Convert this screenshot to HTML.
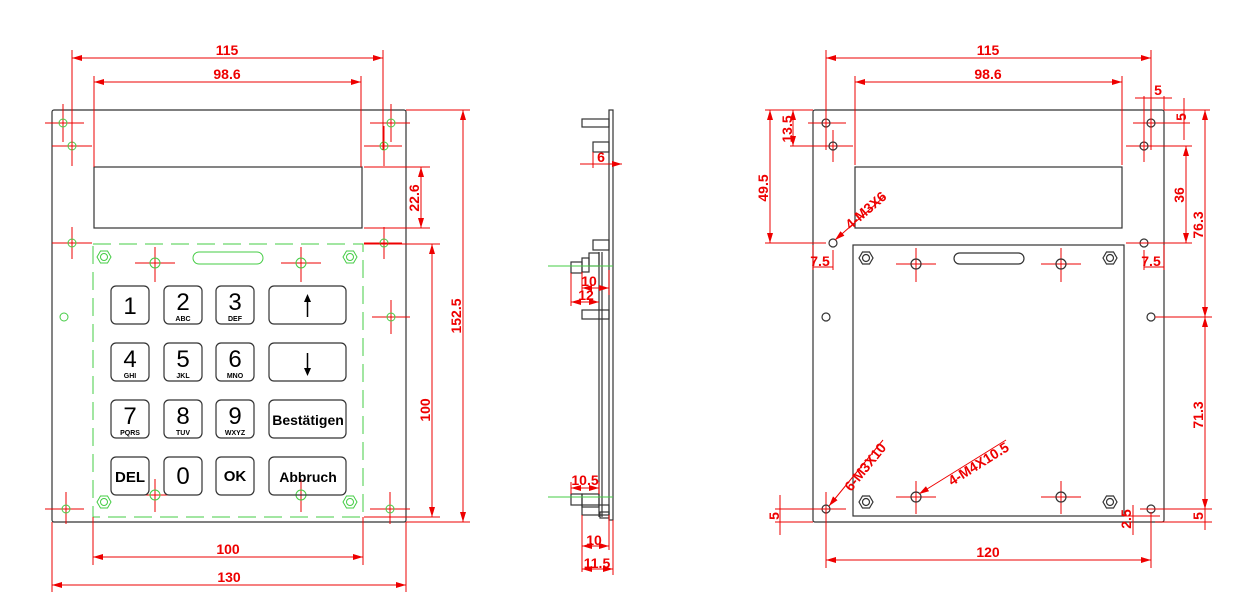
<!DOCTYPE html>
<html><head><meta charset="utf-8"><style>
html,body{margin:0;padding:0;background:#fff;}
svg{display:block;}
text{font-family:"Liberation Sans",sans-serif;font-weight:bold;}
.r{stroke:#e00;stroke-width:1;fill:none}
.rt{fill:#e00;font-size:14px}
.k{stroke:#333;stroke-width:1.2;fill:none}
.g{stroke:#4c4;stroke-width:1;fill:none}
.kt{fill:#000;font-weight:normal}
.kb{fill:#000;font-weight:bold}
</style></head><body>
<svg width="1242" height="611" viewBox="0 0 1242 611" xmlns="http://www.w3.org/2000/svg">
<defs>
<marker id="a" viewBox="0 0 10 6" refX="10" refY="3" markerWidth="10" markerHeight="6" orient="auto-start-reverse"><path d="M0,0L10,3L0,6z" fill="#e00"/></marker>
</defs>

<!-- ============ LEFT VIEW ============ -->
<rect class="k" x="52" y="110" width="354" height="412" rx="2"/>
<rect class="k" x="94" y="167" width="268" height="61"/>
<rect class="g" x="93" y="244" width="270" height="273" stroke-dasharray="18,8"/>
<rect class="g" x="193" y="252" width="70" height="12" rx="6"/>
<g class="g">
<polygon points="97,257 100.5,251 107.5,251 111,257 107.5,263 100.5,263"/><circle cx="104" cy="257" r="3.5"/>
<polygon points="343,257 346.5,251 353.5,251 357,257 353.5,263 346.5,263"/><circle cx="350" cy="257" r="3.5"/>
<polygon points="97,502 100.5,496 107.5,496 111,502 107.5,508 100.5,508"/><circle cx="104" cy="502" r="3.5"/>
<polygon points="343,502 346.5,496 353.5,496 357,502 353.5,508 346.5,508"/><circle cx="350" cy="502" r="3.5"/>
</g>
<g class="r">
<path d="M45,123H84M63,104V142 M52,146H92M72,126V166 M370,123H410M391,104V142 M364,146H402M384,126V166 M52,243H92M72,227V259 M364,243H402M384,227V259 M135,263H175M155,247V282 M281,263H321M301,247V282 M135,495H175M155,479V512 M281,495H321M301,479V512 M45,509H84M66,492V524 M370,509H410M390,492V524 M372,317H410M391,300V334"/>
</g>
<g class="g">
<circle cx="63" cy="123" r="4"/><circle cx="72" cy="146" r="4"/><circle cx="391" cy="123" r="4"/><circle cx="384" cy="146" r="4"/>
<circle cx="72" cy="243" r="4"/><circle cx="384" cy="243" r="4"/><circle cx="155" cy="263" r="5"/><circle cx="301" cy="263" r="5"/>
<circle cx="155" cy="495" r="5"/><circle cx="301" cy="495" r="5"/><circle cx="66" cy="509" r="4"/><circle cx="390" cy="509" r="4"/>
<circle cx="64" cy="317" r="4"/><circle cx="391" cy="317" r="4"/>
</g>
<g class="k">
<rect x="111" y="286" width="38" height="38" rx="5"/><rect x="164" y="286" width="38" height="38" rx="5"/><rect x="216" y="286" width="38" height="38" rx="5"/><rect x="269" y="286" width="77" height="38" rx="5"/>
<rect x="111" y="343" width="38" height="38" rx="5"/><rect x="164" y="343" width="38" height="38" rx="5"/><rect x="216" y="343" width="38" height="38" rx="5"/><rect x="269" y="343" width="77" height="38" rx="5"/>
<rect x="111" y="400" width="38" height="38" rx="5"/><rect x="164" y="400" width="38" height="38" rx="5"/><rect x="216" y="400" width="38" height="38" rx="5"/><rect x="269" y="400" width="77" height="38" rx="5"/>
<rect x="111" y="457" width="38" height="38" rx="5"/><rect x="164" y="457" width="38" height="38" rx="5"/><rect x="216" y="457" width="38" height="38" rx="5"/><rect x="269" y="457" width="77" height="38" rx="5"/>
</g>
<g text-anchor="middle" font-size="24">
<text x="130" y="314" class="kt">1</text>
<text x="183" y="310" class="kt">2</text><text x="183" y="321" font-size="7" class="kb">ABC</text>
<text x="235" y="310" class="kt">3</text><text x="235" y="321" font-size="7" class="kb">DEF</text>
<text x="130" y="367" class="kt">4</text><text x="130" y="378" font-size="7" class="kb">GHI</text>
<text x="183" y="367" class="kt">5</text><text x="183" y="378" font-size="7" class="kb">JKL</text>
<text x="235" y="367" class="kt">6</text><text x="235" y="378" font-size="7" class="kb">MNO</text>
<text x="130" y="424" class="kt">7</text><text x="130" y="435" font-size="7" class="kb">PQRS</text>
<text x="183" y="424" class="kt">8</text><text x="183" y="435" font-size="7" class="kb">TUV</text>
<text x="235" y="424" class="kt">9</text><text x="235" y="435" font-size="7" class="kb">WXYZ</text>
<text x="183" y="484" class="kt">0</text>
<text x="130" y="482" font-size="15" class="kb">DEL</text>
<text x="235" y="481" font-size="15" class="kb">OK</text>
<text x="308" y="425" font-size="14" class="kb">Bestätigen</text>
<text x="308" y="482" font-size="14" class="kb">Abbruch</text>
</g>
<path d="M307.5,296V317 M307.5,353V374" stroke="#000" stroke-width="1.5"/>
<path d="M304,302L307.5,294L311,302z M304,368L307.5,376L311,368z" fill="#000"/>
<g class="r">
<path d="M72,50V150 M383,50V150 M94,76V167 M361,76V167"/>
<path d="M72,58H383" marker-start="url(#a)" marker-end="url(#a)"/>
<path d="M94,82H361" marker-start="url(#a)" marker-end="url(#a)"/>
<path d="M364,167H430 M364,228H430 M406,110H470 M364,244H440 M364,517H440 M406,522H470"/>
<path d="M421,167V228" marker-start="url(#a)" marker-end="url(#a)"/>
<path d="M463,110V522" marker-start="url(#a)" marker-end="url(#a)"/>
<path d="M432,244V517" marker-start="url(#a)" marker-end="url(#a)"/>
<path d="M93,517V565 M363,517V565 M52,522V592 M406,522V592"/>
<path d="M93,557H363" marker-start="url(#a)" marker-end="url(#a)"/>
<path d="M52,585H406" marker-start="url(#a)" marker-end="url(#a)"/>
</g>
<g class="rt" text-anchor="middle">
<text x="227" y="55">115</text><text x="227" y="79">98.6</text>
<text x="228" y="554">100</text><text x="229" y="582">130</text>
<text transform="translate(419,198) rotate(-90)">22.6</text>
<text transform="translate(461,316) rotate(-90)">152.5</text>
<text transform="translate(430,410) rotate(-90)">100</text>
</g>

<!-- ============ SIDE VIEW ============ -->
<g class="k">
<rect x="609" y="110" width="4" height="410"/>
<path d="M599,252V517 M602,252V517"/>
<rect x="582" y="119" width="27" height="8"/>
<rect x="593" y="142" width="16" height="10"/>
<rect x="593" y="240" width="16" height="10"/>
<rect x="582" y="310" width="27" height="9"/>
<rect x="589" y="253" width="10" height="13"/>
<rect x="582" y="258" width="7" height="14"/>
<rect x="571" y="262" width="11" height="11"/>
<rect x="571" y="494" width="11" height="11"/>
<rect x="582" y="494" width="17" height="13"/>
<rect x="582" y="505" width="27" height="10"/>
<rect x="600" y="512" width="9" height="6"/>
</g>
<path d="M548,266H613 M548,497H613" stroke="#4c4"/>
<g class="r">
<path d="M593,152V168"/>
<path d="M580,164H622" marker-end="url(#a)"/>
<path d="M582,272V292 M571,273V306 M609,270V295"/>
<path d="M582,288H609" marker-start="url(#a)" marker-end="url(#a)"/>
<path d="M571,302H599" marker-start="url(#a)" marker-end="url(#a)"/>
<path d="M571,482V494 M599,482V494"/>
<path d="M571,488H599" marker-start="url(#a)" marker-end="url(#a)"/>
<path d="M582,515V572 M609,515V550 M613,520V575"/>
<path d="M582,546H609" marker-start="url(#a)" marker-end="url(#a)"/>
<path d="M582,569H613" marker-start="url(#a)" marker-end="url(#a)"/>
</g>
<g class="rt" text-anchor="middle">
<text x="601" y="162">6</text>
<text x="589" y="286">10</text><text x="586" y="300">12</text>
<text x="585" y="485">10.5</text><text x="594" y="545">10</text><text x="597" y="568">11.5</text>
</g>

<!-- ============ RIGHT VIEW ============ -->
<rect class="k" x="813" y="110" width="351" height="412" rx="2"/>
<rect class="k" x="855" y="167" width="267" height="61"/>
<rect class="k" x="853" y="245" width="271" height="271"/>
<rect class="k" x="954" y="253" width="70" height="11" rx="5.5"/>
<g class="k" stroke-width="1">
<polygon points="859,258 862.5,252 869.5,252 873,258 869.5,264 862.5,264"/><circle cx="866" cy="258" r="3.5"/>
<polygon points="1103,258 1106.5,252 1113.5,252 1117,258 1113.5,264 1106.5,264"/><circle cx="1110" cy="258" r="3.5"/>
<polygon points="859,502 862.5,496 869.5,496 873,502 869.5,508 862.5,508"/><circle cx="866" cy="502" r="3.5"/>
<polygon points="1103,502 1106.5,496 1113.5,496 1117,502 1113.5,508 1106.5,508"/><circle cx="1110" cy="502" r="3.5"/>
</g>
<g class="r">
<path d="M808,123H846M826,106V140 M790,146H853M833,130V162 M1133,123H1170M1151,106V140 M1126,146H1160M1144,130V162 M896,264H936M916,248V282 M1041,264H1081M1061,248V282 M896,497H936M916,481V514 M1041,497H1081M1061,481V514 M808,509H846M826,492V525"/>
</g>
<g class="k" stroke-width="1">
<circle cx="826" cy="123" r="4"/><circle cx="833" cy="146" r="4"/><circle cx="1151" cy="123" r="4"/><circle cx="1144" cy="146" r="4"/>
<circle cx="833" cy="243" r="4"/><circle cx="1144" cy="243" r="4"/><circle cx="826" cy="317" r="4"/><circle cx="1151" cy="317" r="4"/>
<circle cx="826" cy="509" r="4"/><circle cx="1151" cy="509" r="4"/>
<circle cx="916" cy="264" r="5"/><circle cx="1061" cy="264" r="5"/><circle cx="916" cy="497" r="5"/><circle cx="1061" cy="497" r="5"/>
</g>
<g class="r">
<path d="M826,50V150 M1151,50V150 M855,76V165 M1122,76V165"/>
<path d="M826,58H1151" marker-start="url(#a)" marker-end="url(#a)"/>
<path d="M855,82H1122" marker-start="url(#a)" marker-end="url(#a)"/>
<path d="M1144,96V150 M1164,96V110"/>
<path d="M1135,98H1172" />
<path d="M1184,98V140 M1164,110H1210 M1156,123H1190"/>
<path d="M765,110H813 M790,146H826 M765,243H826"/>
<path d="M793,110V146" marker-start="url(#a)" marker-end="url(#a)"/>
<path d="M770,110V243" marker-start="url(#a)" marker-end="url(#a)"/>
<path d="M813,245V270 M833,250V270 M813,267H833"/>
<path d="M1144,250V270 M1164,245V270 M1144,267H1164"/>
<path d="M885,196L835,240" marker-end="url(#a)"/>
<path d="M1126,243H1192 M1160,146H1192 M1155,317H1212 M1155,522H1212"/>
<path d="M1186,146V243" marker-start="url(#a)" marker-end="url(#a)"/>
<path d="M1205,110V317" marker-start="url(#a)" marker-end="url(#a)"/>
<path d="M1205,317V509" marker-start="url(#a)" marker-end="url(#a)"/>
<path d="M1205,500V530 M1140,509H1212"/>
<path d="M775,509H830 M775,522H813 M780,495V535"/>
<path d="M1124,516H1160 M1133,505V535"/>
<path d="M883,440L829,506" marker-end="url(#a)"/>
<path d="M1006,440L919,494" marker-end="url(#a)"/>
<path d="M826,512V568 M1151,512V568"/>
<path d="M826,560H1151" marker-start="url(#a)" marker-end="url(#a)"/>
</g>
<g class="rt" text-anchor="middle">
<text x="988" y="55">115</text><text x="988" y="79">98.6</text>
<text x="1158" y="95">5</text>
<text transform="translate(1186,117) rotate(-90)">5</text>
<text transform="translate(792,129) rotate(-90)">13.5</text>
<text transform="translate(768,188) rotate(-90)">49.5</text>
<text transform="translate(1184,195) rotate(-90)">36</text>
<text transform="translate(1203,225) rotate(-90)">76.3</text>
<text transform="translate(1203,415) rotate(-90)">71.3</text>
<text transform="translate(1203,516) rotate(-90)">5</text>
<text transform="translate(779,516) rotate(-90)">5</text>
<text transform="translate(1131,519) rotate(-90)">2.5</text>
<text x="820" y="266">7.5</text><text x="1151" y="266">7.5</text>
<text x="988" y="557">120</text>
<text transform="translate(869,214) rotate(-41)">4-M3X6</text>
<text transform="translate(869,470) rotate(-51)">6-M3X10</text>
<text transform="translate(981,468) rotate(-32)">4-M4X10.5</text>
</g>
</svg>
</body></html>
